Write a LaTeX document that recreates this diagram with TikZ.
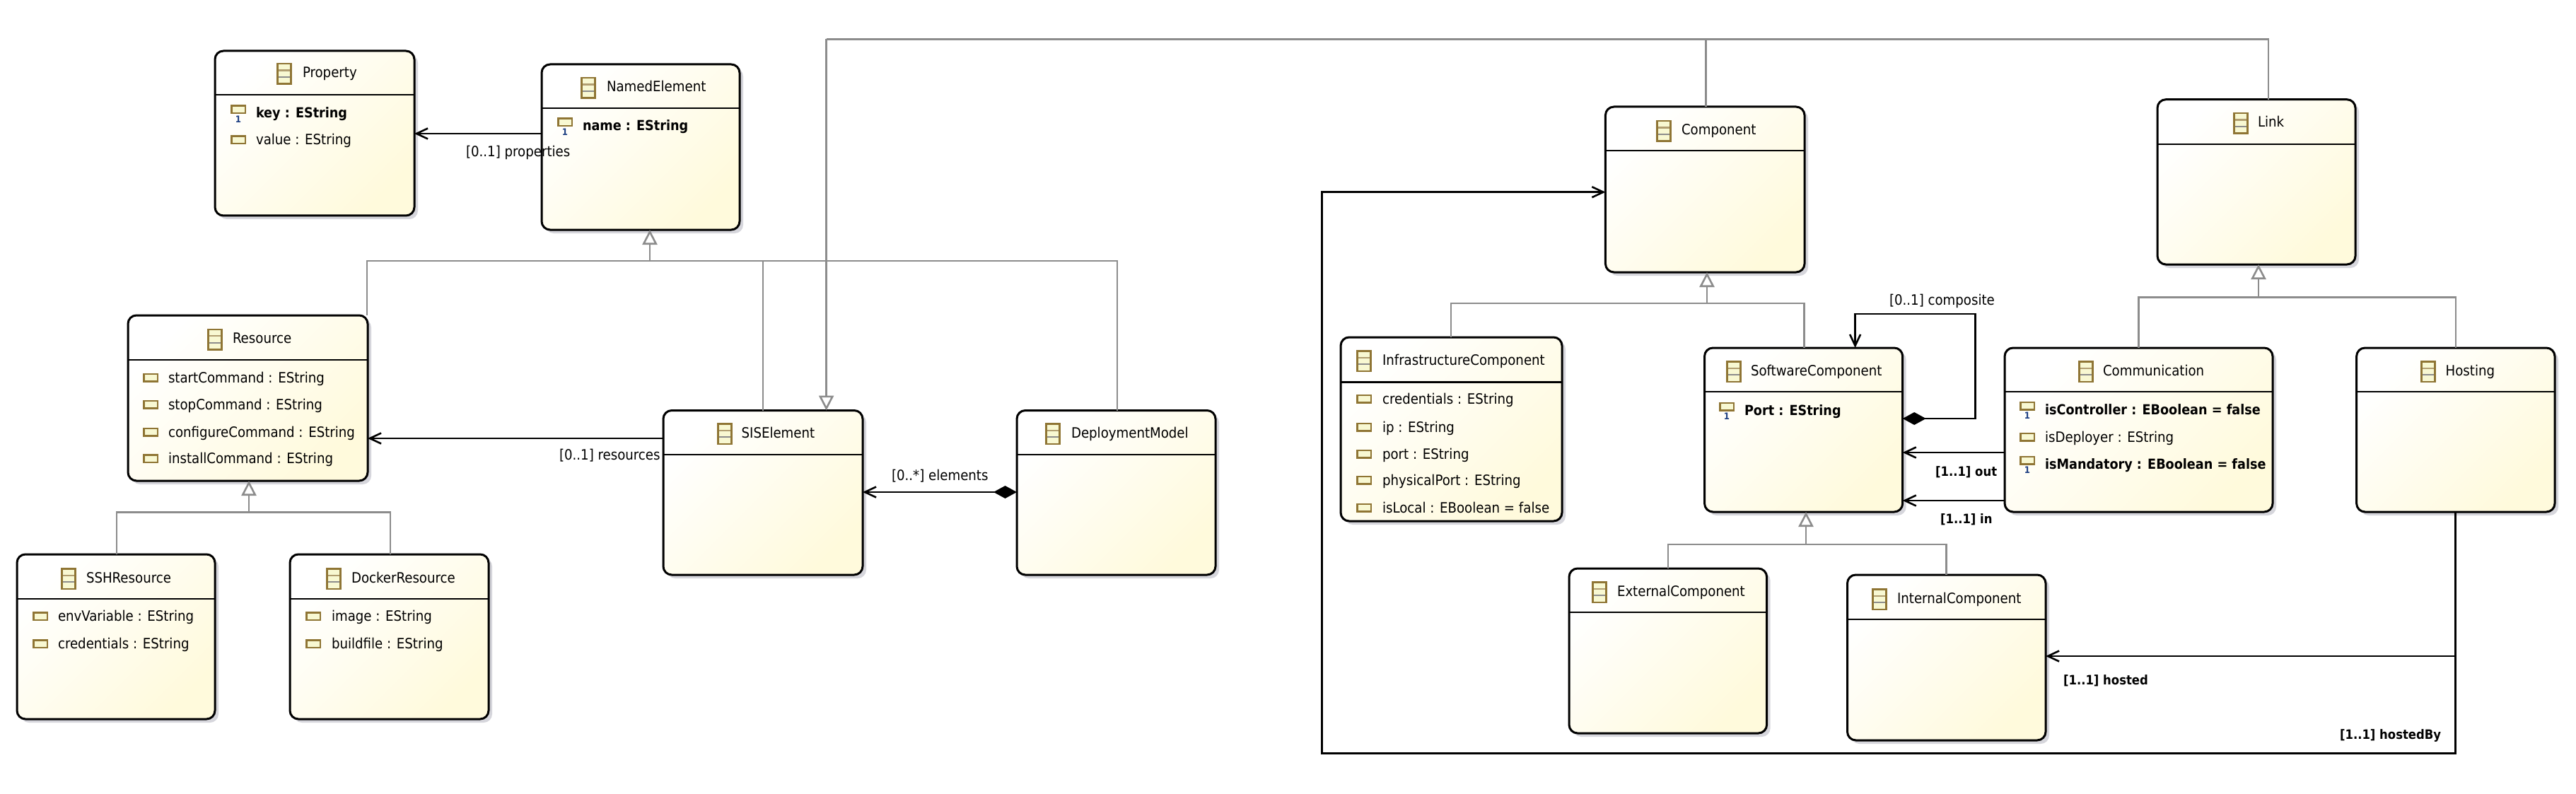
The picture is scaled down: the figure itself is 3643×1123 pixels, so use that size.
\documentclass[tikz,border=0pt]{standalone}
\usepackage{fontspec}
\setmainfont{DejaVu Sans Condensed}
\usetikzlibrary{arrows.meta,shadows}
\definecolor{boxend}{HTML}{FFFADC}
\definecolor{shadowc}{HTML}{D6D6DC}
\definecolor{genc}{HTML}{8C8C8C}
\definecolor{iconb}{HTML}{8F7534}
\definecolor{iconf}{HTML}{F8F8D2}
\definecolor{oneblue}{HTML}{1C3E82}
\tikzset{
 umlbox/.style={draw=black,line width=3pt,rounded corners=12pt,inner sep=0pt,outer sep=0pt,
   top color=white,bottom color=boxend,shading angle=45,
   drop shadow={shadow xshift=5pt,shadow yshift=-5pt,fill=shadowc,opacity=1}},
 hline/.style={draw=black,line width=2.8pt},
 txt/.style={anchor=base west,inner sep=0pt,outer sep=0pt,font=\fontsize{20.2pt}{24pt}\selectfont,text=black},
 btxt/.style={txt,font=\fontsize{19.6pt}{24pt}\selectfont\bfseries},
 bltxt/.style={txt,font=\fontsize{18.3pt}{24pt}\selectfont\bfseries},
 assoc/.style={draw=black,line width=2.8pt,line join=miter},
 barb/.style={assoc,-{Straight Barb[length=16pt,width=15pt,line width=2.6pt]}},
 compo/.style={assoc,{Diamond[length=33pt,width=18pt,fill=black]}-{Straight Barb[length=16pt,width=15pt,line width=2.6pt]}},
 gen/.style={draw=genc,line width=2.6pt},
 genarrow/.style={gen,-{Triangle[length=21pt,width=21pt,fill=white,line width=2.6pt]}},
 onelbl/.style={anchor=center,inner sep=0pt,text=oneblue,font=\fontsize{13pt}{14pt}\selectfont\bfseries},
}
\newcommand{\umlclass}[6]{% name x1 y1 x2 y2 hdr
 \pgfmathsetmacro{\bw}{#4-#2}\pgfmathsetmacro{\bh}{#5-#3}
 \pgfmathsetmacro{\bx}{(#2+#4)/2}\pgfmathsetmacro{\by}{(#3+#5)/2}
 \node[umlbox,minimum width=\bw pt,minimum height=\bh pt] (#1) at (\bx,\by) {};
 \draw[hline] (#1.west |- 0,#6) -- (#1.east |- 0,#6);
}
\newcommand{\umltitle}[5]{% name iconx texty textx text
 \pgfmathsetmacro{\ity}{#3+1.5-15.5}
 \fill[iconb] (#2,\ity) rectangle ++(21.5,31);
 \fill[iconf] (#2+2.5,\ity+2.5) rectangle ++(16.5,26);
 \fill[iconb!70!white] (#2+2.5,\ity+9.5) rectangle ++(16.5,2.2);
 \fill[genc] (#2+2.5,\ity+19) rectangle ++(16.5,2.2);
 \node[txt] (#1) at (#4,#3+7) {#5};
}
\newcommand{\umlattr}[5]{% name iconx y textx text
 \fill[iconb] (#2,#3-6.5) rectangle ++(22,13);
 \fill[iconf] (#2+2.5,#3-4) rectangle ++(17,8);
 \node[txt] (#1) at (#4,#3+7) {#5};
}
\newcommand{\umlreq}[5]{% required attribute with multiplicity mark
 \fill[iconb] (#2,#3-11.5) rectangle ++(22,13);
 \fill[iconf] (#2+2.5,#3-9) rectangle ++(17,8);
 \node[onelbl] (#1-one) at (#2+11,#3+9) {1};
 \node[btxt] (#1) at (#4,#3+7) {#5};
}
\begin{document}
\begin{tikzpicture}[x=1pt,y=-1pt]
\useasboundingbox (0,0) rectangle (3643,1123);
\fill[white] (0,0) rectangle (3643,1123);

% classes
\umlclass{property}{304}{72}{586}{305}{134}
\umltitle{property-t}{391}{103}{428}{Property}
\umlreq{key}{326}{160}{362}{key : EString}
\umlattr{value}{326}{198}{362}{value : EString}

\umlclass{named}{766}{91}{1046}{325}{153}
\umltitle{named-t}{821}{123}{858}{NamedElement}
\umlreq{name}{788}{178}{824}{name : EString}

\umlclass{resource}{181}{446}{520}{680}{509}
\umltitle{resource-t}{293}{478.5}{329}{Resource}
\umlattr{start}{202}{534}{238}{startCommand : EString}
\umlattr{stop}{202}{572}{238}{stopCommand : EString}
\umlattr{configure}{202}{611}{238}{configureCommand : EString}
\umlattr{install}{202}{648.5}{238}{installCommand : EString}

\umlclass{ssh}{24}{784}{304}{1017}{847}
\umltitle{ssh-t}{86}{817}{122}{SSHResource}
\umlattr{env}{46}{871.6}{82}{envVariable : EString}
\umlattr{cred}{46}{910.7}{82}{credentials : EString}

\umlclass{docker}{410}{784}{691}{1017}{847}
\umltitle{docker-t}{461}{817}{497}{DockerResource}
\umlattr{image}{432}{871.6}{469}{image : EString}
\umlattr{build}{432}{910.7}{469}{buildfile : EString}

\umlclass{sis}{938}{580.5}{1220}{813}{643}
\umltitle{sis-t}{1014}{612}{1048.6}{SISElement}

\umlclass{deploy}{1438}{580.5}{1719}{813}{643}
\umltitle{deploy-t}{1478}{612}{1515}{DeploymentModel}

\umlclass{component}{2270.4}{151}{2552}{385}{213}
\umltitle{component-t}{2342}{184}{2378}{Component}

\umlclass{link}{3051}{140.7}{3331}{374}{204}
\umltitle{link-t}{3158}{173}{3193}{Link}

\umlclass{infra}{1896}{477}{2209}{737}{540.7}
\umltitle{infra-t}{1918}{509}{1955}{InfrastructureComponent}
\umlattr{icred}{1918}{564}{1955}{credentials : EString}
\umlattr{iip}{1918}{604}{1955}{ip : EString}
\umlattr{iport}{1918}{642}{1955}{port : EString}
\umlattr{iphys}{1918}{679}{1955}{physicalPort : EString}
\umlattr{ilocal}{1918}{718}{1955}{isLocal : EBoolean = false}

\umlclass{software}{2410.5}{492}{2690.7}{724}{554}
\umltitle{software-t}{2441}{524}{2476}{SoftwareComponent}
\umlreq{sport}{2431}{580}{2467}{Port : EString}

\umlclass{comm}{2835}{492}{3214}{724}{554}
\umltitle{comm-t}{2939}{524}{2974}{Communication}
\umlreq{ctrl}{2856}{579}{2892}{isController : EBoolean = false}
\umlattr{depl}{2856}{618}{2892}{isDeployer : EString}
\umlreq{mand}{2856}{656}{2892}{isMandatory : EBoolean = false}

\umlclass{hosting}{3332.6}{492}{3613}{724}{554}
\umltitle{hosting-t}{3423}{524}{3458.6}{Hosting}

\umlclass{external}{2219}{804}{2498.6}{1037}{866}
\umltitle{external-t}{2251}{836}{2287}{ExternalComponent}

\umlclass{internal}{2612.5}{813}{2893}{1047}{876}
\umltitle{internal-t}{2647}{846}{2683}{InternalComponent}

% generalisations: junction points
\coordinate (jn) at (919,369);
\coordinate (jr) at (352,724.5);
\coordinate (jc) at (2414,429);
\coordinate (js) at (2554,770);
\coordinate (jl) at (3194,420.5);
\coordinate (jtop) at (1168.6,55.5);

\draw[gen] (resource.north -| 519,0) |- (jn);
\draw[gen] (sis.north) |- (jn);
\draw[gen] (deploy.north -| 1580,0) |- (jn);
\draw[genarrow] (jn) -- (named.south -| jn);

\draw[gen] (ssh.north -| 165,0) |- (jr);
\draw[gen] (docker.north -| 552,0) |- (jr);
\draw[genarrow] (jr) -- (resource.south -| jr);

\draw[gen] (infra.north -| 2052,0) |- (jc);
\draw[gen] (software.north -| 2551.5,0) |- (jc);
\draw[genarrow] (jc) -- (component.south -| jc);

\draw[gen] (external.north) |- (js);
\draw[gen] (internal.north) |- (js);
\draw[genarrow] (js) -- (software.south -| js);

\draw[gen] (comm.north) |- (jl);
\draw[gen] (hosting.north) |- (jl);
\draw[genarrow] (jl) -- (link.south -| jl);

\draw[gen] (component.north -| 2412.7,0) |- (jtop);
\draw[gen] (link.north -| 3208,0) |- (jtop);
\draw[genarrow] (jtop) -- (sis.north -| jtop);

% references
\draw[barb] (named.west |- 0,189) -- (property.east |- 0,189);
\draw[barb] (sis.west |- 0,620) -- (resource.east |- 0,620);
\draw[compo] (deploy.west |- 0,696) -- (sis.east |- 0,696);
\coordinate (cr) at (2793.6,592);
\coordinate (ct) at (2623.6,444);
\draw[compo] (software.east |- cr) -- (cr) |- (ct) -- (software.north -| ct);
\draw[barb] (comm.west |- 0,640) -- (software.east |- 0,640);
\draw[barb] (comm.west |- 0,708) -- (software.east |- 0,708);
\coordinate (hb) at (hosting.south |- 0,1065.7);
\coordinate (hl) at (1869.5,1065.7);
\draw[barb] (hosting.south) -- (hb) -- (hl) |- (component.west |- 0,271.7);
\draw[barb] (hosting.south |- 0,928) -- (internal.east |- 0,928);

% connector labels
\node[txt] (lprop) at (659,222) {[0..1] properties};
\node[txt] (lres) at (791,650) {[0..1] resources};
\node[txt] (lelem) at (1261,679) {[0..*] elements};
\node[txt] (lcomp) at (2672,431) {[0..1] composite};
\node[bltxt] (lout) at (2737,673) {[1..1] out};
\node[bltxt] (lin) at (2744,740) {[1..1] in};
\node[bltxt] (lhosted) at (2918,968) {[1..1] hosted};
\node[bltxt] (lhostedby) at (3309,1045) {[1..1] hostedBy};
\end{tikzpicture}
\end{document}
